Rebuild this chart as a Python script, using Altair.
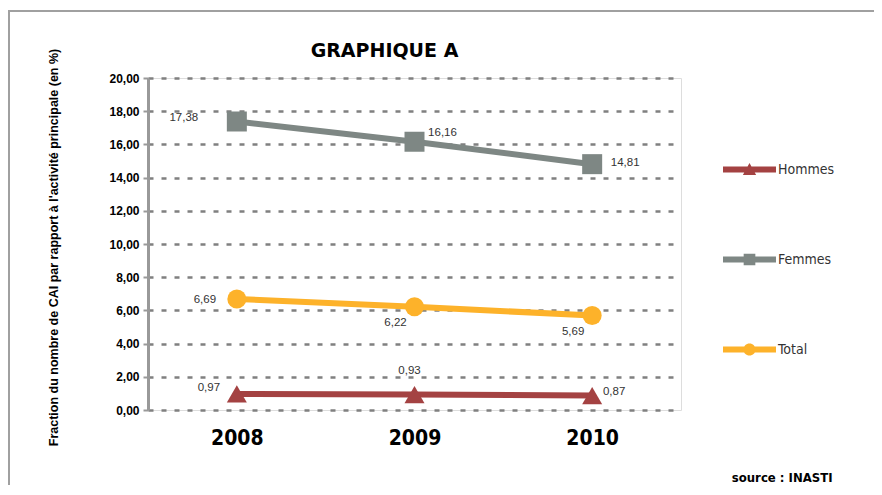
import altair as alt
import pandas as pd

# ---- data ----
years = ["2008", "2009", "2010"]
series = ["Hommes", "Femmes", "Total"]
hommes = [0.97, 0.93, 0.87]
femmes = [17.38, 16.16, 14.81]
total = [6.69, 6.22, 5.69]
y_ticks = [0, 2, 4, 6, 8, 10, 12, 14, 16, 18, 20]

colors = ["#A44242", "#7E8784", "#FDB22A"]
marker_shapes = {"Hommes": "triangle-up", "Femmes": "square", "Total": "circle"}
legend_paths = [
    "M-1,-0.11L1,-0.11L1,0.11L-1,0.11Z M-0.25,0.21L0,-0.25L0.25,0.21Z",
    "M-1,-0.11L1,-0.11L1,0.11L-1,0.11Z M-0.22,-0.22L0.22,-0.22L0.22,0.22L-0.22,0.22Z",
    "M-1,-0.11L1,-0.11L1,0.11L-1,0.11Z M-0.23,0A0.23,0.23 0 1 1 0.23,0A0.23,0.23 0 1 1 -0.23,0Z",
]

# label placement (style): offsets in px per (series, year)
label_offsets = {
    ("Femmes", "2008"): (-53, -3), ("Femmes", "2009"): (28, -9), ("Femmes", "2010"): (33, -1),
    ("Total", "2008"): (-32, 1), ("Total", "2009"): (-19, 16), ("Total", "2010"): (-19, 16),
    ("Hommes", "2008"): (-28, -6), ("Hommes", "2009"): (-5, -24), ("Hommes", "2010"): (22, -4),
}

rows = []
for s, vals in zip(series, [hommes, femmes, total]):
    for yr, v in zip(years, vals):
        rows.append({"annee": yr, "serie": s, "valeur": v,
                     "label": f"{v:.2f}".replace(".", ",")})
df = pd.DataFrame(rows)

NARROW = "Liberation Sans Narrow, DejaVu Sans Condensed, Arial Narrow, sans-serif"
SANS = "Liberation Sans, Arial, sans-serif"

x_enc = alt.X("annee:O", sort=years, axis=alt.Axis(
    labelAngle=0, labelFont=NARROW, labelFontWeight="bold", labelFontSize=21,
    labelColor="black", labelPadding=17, ticks=False, domain=False, grid=False,
    title="source : INASTI", titleFont=NARROW, titleFontSize=13, titleFontWeight="bold",
    titleColor="black", titleX=684, titleY=67, titleAlign="right", titleBaseline="middle",
))
y_enc = alt.Y("valeur:Q", scale=alt.Scale(domain=[0, 20], nice=False), axis=alt.Axis(
    values=y_ticks, labelExpr="replace(format(datum.value, '.2f'), '.', ',')",
    labelFont=SANS, labelFontWeight="bold", labelFontSize=12, labelColor="black",
    labelPadding=4, domainColor="#999999", domainWidth=3, tickColor="#999999",
    tickWidth=2, tickSize=5, grid=True, gridColor="#808080", gridDash=[5, 8],
    gridWidth=2.5,
    title="Fraction du nombre de CAI par rapport à  l'activité principale (en  %)",
    titleFont=SANS, titleFontSize=12.5, titleFontWeight="bold", titleColor="black",
    titleX=-95, titleY=169, titleAngle=-90, titleAlign="center", titleBaseline="middle",
))
color_scale = alt.Scale(domain=series, range=colors)

base = alt.Chart(df)

frame = alt.Chart(pd.DataFrame({"f": [0]})).mark_rect(
    fillOpacity=0, stroke="#A0A0A0", strokeWidth=2
).encode(x=alt.value(-139), x2=alt.value(760), y=alt.value(-67), y2=alt.value(520))

lines = base.mark_line(strokeWidth=6).encode(
    x=x_enc, y=y_enc, color=alt.Color("serie:N", scale=color_scale, legend=None),
    detail="serie:N",
)

points = [
    base.transform_filter(alt.datum.serie == s).mark_point(
        filled=True, opacity=1, shape=marker_shapes[s], size=400 if s != "Total" else 361
    ).encode(x=x_enc, y=y_enc, color=alt.Color("serie:N", scale=color_scale, legend=None))
    for s in series
]

labels = []
for (s, yr), (dx, dy) in label_offsets.items():
    labels.append(
        base.transform_filter((alt.datum.serie == s) & (alt.datum.annee == yr))
        .mark_text(dx=dx, dy=dy, font=SANS, fontSize=11.5, color="#333333",
                   align="center", baseline="middle")
        .encode(x=x_enc, y=y_enc, text="label:N")
    )

main = alt.layer(frame, lines, *points, *labels)

legend_def = alt.Legend(
    title=None, orient="none", legendX=575, legendY=65, direction="vertical",
    symbolSize=2809, symbolStrokeWidth=0, labelFont=NARROW, labelFontSize=14,
    labelColor="#333333", labelOffset=2, rowPadding=56, padding=0,
)
legend_layer = base.transform_filter("false").mark_point(filled=True, opacity=1).encode(
    x=x_enc, y=y_enc,
    color=alt.Color("serie:N", scale=color_scale, legend=legend_def),
    shape=alt.Shape("serie:N", scale=alt.Scale(domain=series, range=legend_paths),
                    legend=legend_def),
)

chart = alt.layer(main, legend_layer).resolve_scale(
    color="independent", shape="independent"
).properties(
    width=533, height=332,
    autosize=alt.AutoSizeParams(type="none"),
    padding={"left": 140, "top": 70, "right": 193, "bottom": 75},
    title=alt.Title("GRAPHIQUE A", font="DejaVu Sans", fontSize=19, fontWeight="bold",
                    anchor="middle", frame="group", dx=-30, offset=-66,
                    baseline="alphabetic", color="black"),
).configure_view(stroke="#A6A6A6", strokeWidth=2).configure(background="white")

chart.save("out.html", embed_options={"renderer": "svg", "actions": False})
